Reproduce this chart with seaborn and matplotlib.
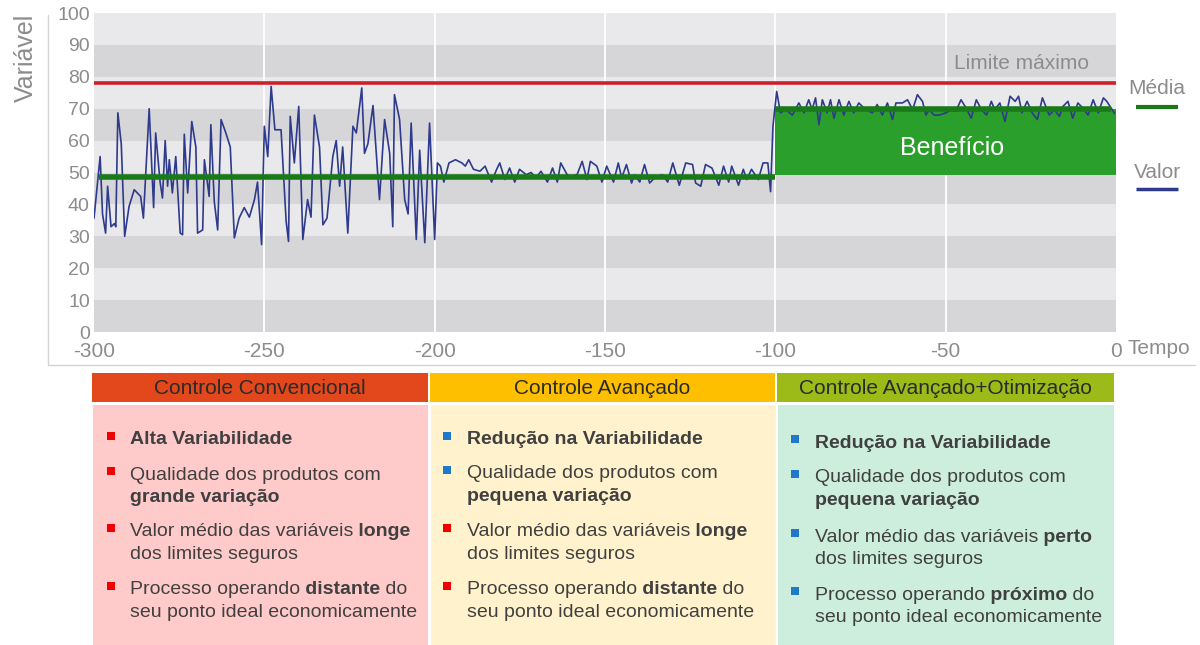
import numpy as np
import pandas as pd
import matplotlib
matplotlib.use("Agg")
import matplotlib.pyplot as plt
import seaborn as sns
from matplotlib.patches import Rectangle

# ---------------- data ----------------
t_conv = [-300, -298.2, -297.5, -296.6, -296, -295, -294, -293.6, -293, -292, -291, -289.7, -288.2,
          -286.3, -285.5, -283.8, -282.5, -281.9, -280.6, -279.9, -279.1, -278.4, -277.9, -277, -276,
          -274.7, -274, -273.5, -272.5, -271.3, -270.1, -269.6, -268.1, -267.6, -266.2, -265.7, -264.7,
          -263.7, -262.7, -261.3, -260, -258.8, -257.4, -255.9, -254.4, -252.9, -252, -250.8, -250,
          -249, -248, -246.9, -245.1, -243.6, -242.9, -242.4, -241.2, -239.9, -238.7, -237.3, -236.3,
          -235.3, -233.8, -232.8, -231.6, -229.9, -228.9, -227.9, -227, -225.5, -224, -223, -221.4,
          -220.6, -219.6, -218.1, -216.2, -214.7, -213.2, -212.3, -211.8, -210.3, -208.8, -207.8,
          -206.9, -205.4, -204.4, -202.9, -201.5, -200]
v_conv = [35.7, 55, 37, 31, 45.7, 33, 34, 33, 68.7, 59, 30, 39.4, 44.6,
          42.5, 35.7, 70, 39, 62.4, 47, 42, 60, 45.7, 54, 43.6, 55,
          31, 30.5, 62, 43.6, 66, 58, 31, 32, 54, 42.5, 65, 41,
          32, 66.6, 62.4, 58, 29.5, 35.7, 39, 36, 41.5, 47, 27.4, 64.5,
          55, 77, 63.4, 63.4, 34.7, 28.4, 67.6, 53, 70.7, 29, 41.5, 36,
          68, 58, 33.6, 35.7, 55, 60, 45.7, 58, 31, 64.5, 62.4, 76.5,
          56, 59, 71, 41.5, 66.6, 56, 33, 74.4, 66.6, 41.5, 37,
          65.5, 29, 57, 28, 65.5, 29]

t_adv = [-199.2, -198.3, -197.3, -195.8, -193.9, -192, -191, -190, -188.6, -186.7, -185.2, -183.3,
         -181.8, -180.9, -179.4, -178, -176.5, -175.1, -173.1, -171.7, -170.2, -168.8, -166.9, -165.4,
         -164, -163, -161.1, -160.1, -158.2, -156.7, -155.3, -154.3, -152.4, -150.9, -149.5, -147.5,
         -146.1, -145.1, -143.7, -142.2, -141.3, -139.8, -138.4, -136.9, -135, -133.1, -131.6, -130.1,
         -128.2, -126.3, -124.3, -123.4, -121.9, -120.5, -118.6, -116.6, -115.2, -113.7, -112.8,
         -110.8, -109.4, -108.4, -107, -105, -103.6, -102.2, -101.4, -100.7]
v_adv = [53, 52, 47, 53, 54, 53, 52, 54, 51, 50.4, 52, 47,
         51, 53, 47.8, 51.4, 47, 51, 49.3, 50, 48.3, 50.4, 47, 51.4,
         47, 53, 49.3, 48.8, 49.3, 53.5, 47.8, 53.5, 52, 47, 52, 47,
         53, 48.3, 52.5, 46.7, 49.3, 47, 52.5, 46.7, 48.8, 49.3, 47, 53,
         46, 53, 52.5, 46.7, 45.7, 52.5, 51.4, 46, 52, 47, 52,
         46, 51, 47.8, 51, 47.8, 53, 53, 44, 64.5]

t_opt = [-99.6, -98.5, -97, -95, -93.1, -91.6, -90.2, -89.2, -88.2, -87.2, -86.2, -84.8, -83.8,
         -82.8, -81.3, -79.9, -78.4, -77, -75.5, -73.5, -71.5, -70.1, -68.6, -67.1, -65.6, -64.6,
         -62.7, -61.2, -59.7, -58.3, -56.8, -55.8, -54.8, -53.4, -51.9, -49.9, -48.5, -47, -45.5,
         -44, -42.5, -41, -39.5, -38, -36.6, -35.6, -34.1, -32.6, -31.1, -29.6, -28.6, -27.6,
         -26.1, -24.6, -23.1, -21.6, -19.6, -18.1, -16.6, -15.6, -14.1, -12.7, -11.2, -9.7, -8.2,
         -6.7, -5.2, -3.7, -2.7, -0.4]
v_opt = [75.4, 68.7, 69.7, 68, 71.8, 68.7, 72.8, 69.7, 73.4, 65, 72.8, 68.7, 72.8,
         67, 72.8, 68, 72.3, 68.7, 71.8, 69.7, 68.7, 71.3, 68, 71.8, 66.6, 71.8,
         71.8, 72.8, 69.7, 74.4, 72.3, 68, 69.7, 68, 68, 68.7, 69.7, 69.2, 72.8,
         70.2, 67, 72.8, 69.7, 68, 72.3, 69.7, 71.8, 66, 73.9, 72.3, 73.9, 68.7,
         72.3, 68.7, 66.6, 73.4, 68, 69.7, 67.6, 70.7, 72.3, 67, 71.8, 70.2, 68,
         72.8, 68.7, 73.4, 72.3, 68.5]

limite_maximo = 78
media_conv = 48.5
media_conv_range = [-298.5, -100]
media_opt = 70
media_opt_range = [-100, -1.5]
beneficio_base = 49.3
beneficio_range = [-100, 0]

x_ticks = [-300, -250, -200, -150, -100, -50, 0]
y_ticks = [0, 10, 20, 30, 40, 50, 60, 70, 80, 90, 100]

panel_titles = ["Controle Convencional", "Controle Avançado", "Controle Avançado+Otimização"]

panel1_items = [
    ("red", [[("Alta Variabilidade", True)]]),
    ("red", [[("Qualidade dos produtos com", False)], [("grande variação", True)]]),
    ("red", [[("Valor médio das variáveis", False), (" longe", True)], [("dos limites seguros", False)]]),
    ("red", [[("Processo operando", False), (" distante", True), (" do", False)],
             [("seu ponto ideal economicamente", False)]]),
]
panel2_items = [
    ("blue", [[("Redução na Variabilidade", True)]]),
    ("blue", [[("Qualidade dos produtos com", False)], [("pequena variação", True)]]),
    ("red", [[("Valor médio das variáveis", False), (" longe", True)], [("dos limites seguros", False)]]),
    ("red", [[("Processo operando", False), (" distante", True), (" do", False)],
             [("seu ponto ideal economicamente", False)]]),
]
panel3_items = [
    ("blue", [[("Redução na Variabilidade", True)]]),
    ("blue", [[("Qualidade dos produtos com", False)], [("pequena variação", True)]]),
    ("blue", [[("Valor médio das variáveis", False), (" perto", True)], [("dos limites seguros", False)]]),
    ("blue", [[("Processo operando", False), (" próximo", True), (" do", False)],
             [("seu ponto ideal economicamente", False)]]),
]

# ---------------- style ----------------
sns.set_style("white")
plt.rcParams['font.family'] = ['Liberation Sans', 'DejaVu Sans']

W, H = 1200, 645
fig = plt.figure(figsize=(12, 6.45), dpi=100)

GRAY = "#8c8c8c"
TEXT = "#404040"
NAVY = "#2e3a8c"
MEAN_GREEN = "#1a7a1a"
FILL_GREEN = "#2b9f2b"
RED = "#c8232c"
BAND_LIGHT = "#e9e9eb"
BAND_DARK = "#d6d6d8"

ax = fig.add_axes([94 / W, 1 - 332 / H, (1116 - 94) / W, (332 - 13) / H])

# horizontal bands
for i in range(10):
    ax.axhspan(i * 10, i * 10 + 10, color=BAND_DARK if i % 2 == 0 else BAND_LIGHT, lw=0, zorder=0)
for xt in x_ticks[1:-1]:
    ax.axvline(xt, color="white", lw=1.3, zorder=0.5)

# benefit fill
ax.fill_between(beneficio_range, beneficio_base, media_opt, color=FILL_GREEN, lw=0, zorder=1)

# value series
df = pd.DataFrame({
    "Tempo": t_conv + t_adv + t_opt,
    "Valor": v_conv + v_adv + v_opt,
})
sns.lineplot(data=df, x="Tempo", y="Valor", estimator=None, sort=False, color=NAVY, lw=1.2, ax=ax, zorder=2)

# limit and means
ax.axhline(limite_maximo, color=RED, lw=2.6, zorder=3)
ax.hlines(media_conv, *media_conv_range, color=MEAN_GREEN, lw=4, zorder=3)
ax.hlines(media_opt, *media_opt_range, color=MEAN_GREEN, lw=4, zorder=3)

ax.text(-27.8, 84.3, "Limite máximo", ha="center", va="center", fontsize=15, color=GRAY, zorder=4)
ax.text(-48, 57.7, "Benefício", ha="center", va="center", fontsize=18, color="white", zorder=4)

ax.set_xlim(-300, 0)
ax.set_ylim(0, 100)
ax.set_xticks(x_ticks)
ax.set_yticks(y_ticks)
ax.set_xticklabels([str(v) for v in x_ticks])
ax.set_yticklabels([str(v) for v in y_ticks])
ax.tick_params(axis="both", length=0, labelsize=15, labelcolor=GRAY)
ax.tick_params(axis="y", labelsize=14, pad=3)
ax.tick_params(axis="x", pad=7)
ax.set_xlabel("")
ax.set_ylabel("")
for s in ax.spines.values():
    s.set_visible(False)

# ---------------- overlay in pixel coordinates ----------------
ov = fig.add_axes([0, 0, 1, 1], zorder=5)
ov.set_xlim(0, W)
ov.set_ylim(H, 0)
ov.axis("off")
ov.patch.set_visible(False)

# axis titles
ov.text(26, 14, "Variável", rotation=90, ha="center", va="top", fontsize=18, color=GRAY)
ov.text(1127, 349, "Tempo", ha="left", va="center", fontsize=15, color=GRAY)

# legend on right
ov.text(1157, 89, "Média", ha="center", va="center", fontsize=15, color=GRAY)
ov.plot([1136, 1178], [107, 107], color=MEAN_GREEN, lw=3, solid_capstyle="butt")
ov.text(1157, 173, "Valor", ha="center", va="center", fontsize=15, color=GRAY)
ov.plot([1136, 1178], [189, 189], color=NAVY, lw=2.5, solid_capstyle="butt")

# outer frame lines
ov.plot([48, 48], [15, 365], color="#d4d4d4", lw=1)
ov.plot([48, 1195], [365, 365], color="#d4d4d4", lw=1)

# ---------------- bottom panels ----------------
header_colors = ["#e2481b", "#fdbf00", "#9cba18"]
body_colors = ["#ffcaca", "#fff2cc", "#cdeedd"]
header_x = [(92, 428), (430, 775), (777, 1114)]
body_x = [(93, 428), (431, 776), (778, 1114)]
bullet_x = [111, 447, 795]
text_x = [130, 467, 815]
item_y = [[440, 475, 532, 590], [440, 474, 532, 590], [443, 478, 537, 595]]
bullet_colors = {"red": "#f00000", "blue": "#1f78c8"}
all_items = [panel1_items, panel2_items, panel3_items]

for k in range(3):
    x0, x1 = header_x[k]
    ov.add_patch(Rectangle((x0, 373), x1 - x0, 29, color=header_colors[k], lw=0))
    ov.text((x0 + x1) / 2, 388, panel_titles[k], ha="center", va="center", fontsize=15, color="#2a2a2a")
    b0, b1 = body_x[k]
    ov.add_patch(Rectangle((b0, 405), b1 - b0, H - 405, color=body_colors[k], lw=0))

    for (bcol, lines), y0 in zip(all_items[k], item_y[k]):
        ov.add_patch(Rectangle((bullet_x[k] - 4, y0 - 8), 8, 8, color=bullet_colors[bcol], lw=0))
        for li, segs in enumerate(lines):
            yy = y0 + li * 22.5
            prev = None
            for txt, bold in segs:
                kw = dict(fontsize=14, color=TEXT, fontweight="bold" if bold else "normal")
                if prev is None:
                    prev = ov.text(text_x[k], yy, txt, ha="left", va="center", **kw)
                else:
                    prev = ov.annotate(txt, xy=(1, 0), xycoords=prev, ha="left", va="bottom",
                                       annotation_clip=False, **kw)

fig.savefig("out.png", dpi=100)
